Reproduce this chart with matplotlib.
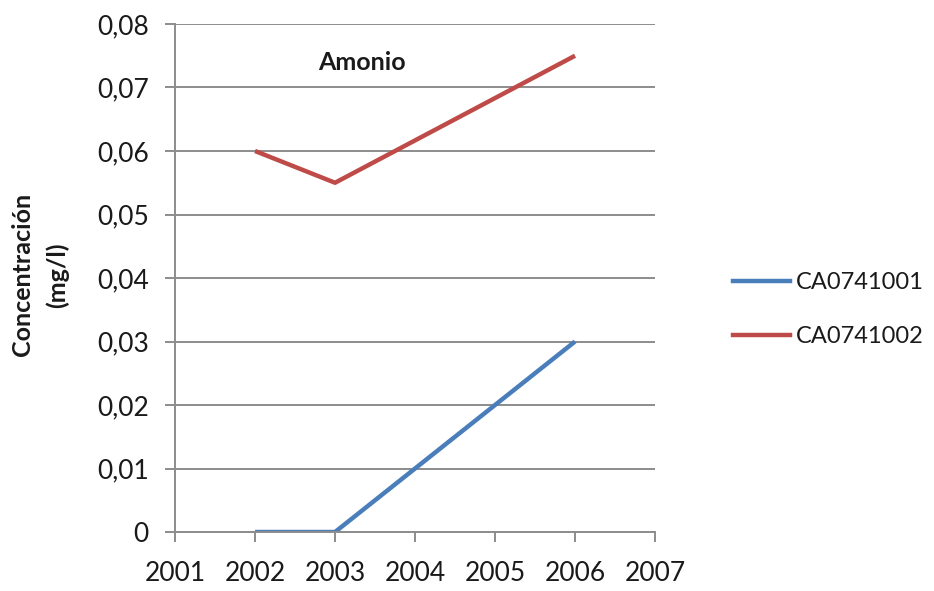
import matplotlib
matplotlib.use("Agg")
import matplotlib.pyplot as plt
from matplotlib.ticker import FuncFormatter
from matplotlib.lines import Line2D

plt.rcParams['font.family'] = ['Lato', 'DejaVu Sans']

# sampling years per station (CA0741002 has no values in 2004-2005)
years_001 = [2002, 2003, 2004, 2005, 2006]
ca0741001 = [0.0, 0.0, 0.01, 0.02, 0.03]
years_002 = [2002, 2003, 2006]
ca0741002 = [0.060, 0.055, 0.075]
series_names = ["CA0741001", "CA0741002"]
colors = ["#4A7EBB", "#BE4B48"]

fig = plt.figure(figsize=(9.34, 5.91), dpi=100)
ax = fig.add_axes([0.1874, 0.0998, 0.5139, 0.8596])

ax.plot(years_001, ca0741001, color=colors[0], lw=3.2, solid_capstyle='butt')
ax.plot(years_002, ca0741002, color=colors[1], lw=3.2, solid_capstyle='butt')

ax.set_xlim(2001, 2007)
ax.set_ylim(0, 0.08)
ax.set_xticks(range(2001, 2008))
ax.set_yticks([i / 100 for i in range(9)])
ax.yaxis.set_major_formatter(FuncFormatter(
    lambda v, p: "0" if v == 0 else f"{v:.2f}".replace(".", ",")))

ax.grid(axis='y', color='#8c8c8c', lw=1.4)
ax.set_axisbelow(True)
for side in ['top', 'right']:
    ax.spines[side].set_visible(False)
for side in ['left', 'bottom']:
    ax.spines[side].set_color('#8c8c8c')
    ax.spines[side].set_linewidth(1.4)

ax.tick_params(axis='y', length=7, width=1.4, color='#8c8c8c', pad=12,
               labelsize=19, labelcolor='#1a1a1a')
ax.tick_params(axis='x', length=7, width=1.4, color='#8c8c8c', pad=14,
               labelsize=19, labelcolor='#1a1a1a')

ax.text(0.39, 0.925, "Amonio", transform=ax.transAxes, ha='center', va='center',
        fontsize=18, fontweight='bold', color='#1a1a1a')

fig.text(0.043, 0.535, "Concentración\n(mg/l)", rotation=90, ha='center',
         va='center', fontsize=18, fontweight='bold', color='#1a1a1a',
         multialignment='center', linespacing=1.6)

handles = [Line2D([], [], color=c, lw=3.2) for c in colors]
fig.legend(handles, series_names, loc='center left',
           bbox_to_anchor=(0.762, 0.476), frameon=False, fontsize=17,
           handlelength=2.4, handletextpad=0.25, labelspacing=1.4,
           labelcolor='#1a1a1a')

fig.savefig("out.png", dpi=100, facecolor='white')
